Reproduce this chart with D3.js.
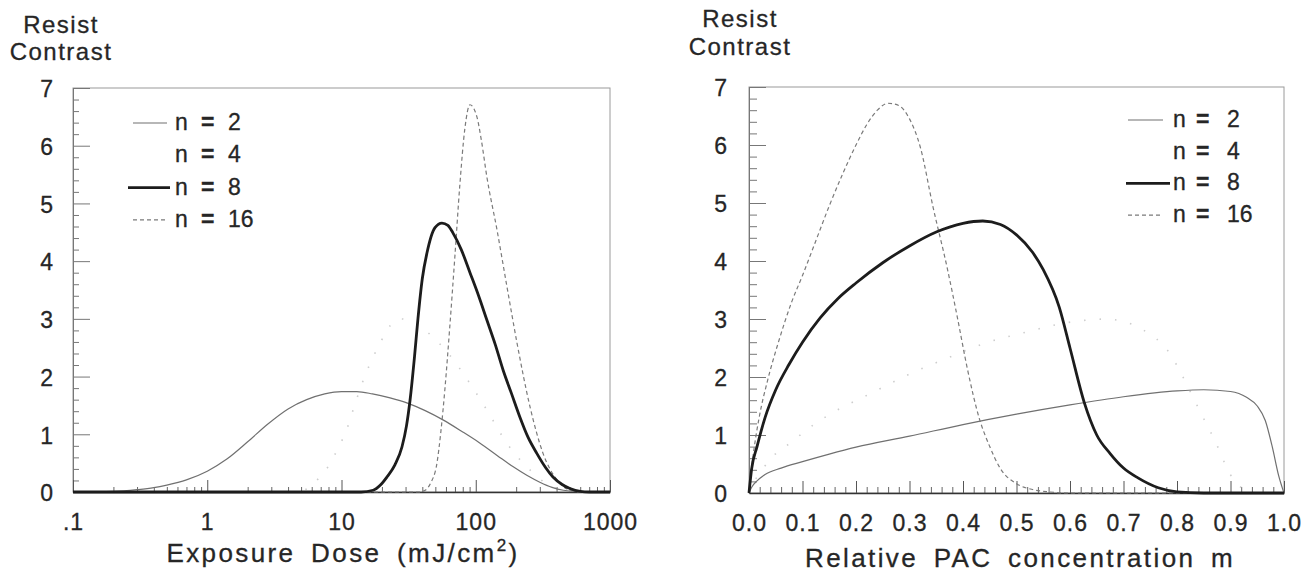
<!DOCTYPE html>
<html><head><meta charset="utf-8">
<script src="https://cdn.jsdelivr.net/npm/d3@7"></script>
<style>
html,body{margin:0;padding:0;background:#fff;}
svg text{font-family:"Liberation Sans",Arial,Helvetica,sans-serif;fill:#262626;stroke:#262626;stroke-width:0.3px;}
</style></head>
<body>
<svg id="chart" width="1311" height="575"></svg>
<script>
// ---------- data ----------
const seriesNames = ["2", "4", "8", "16"];

// Left panel: [exposure dose (mJ/cm2), resist contrast]
const doseN2 = [[0.1,0],[0.2,0.01],[0.3,0.04],[0.4,0.075],[0.5,0.12],[0.7,0.21],[1.0,0.36],[1.4,0.57],[2.0,0.87],[2.8,1.17],[4.0,1.44],[5.5,1.60],[7.5,1.70],[10,1.74],[13,1.74],[17,1.70],[23,1.63],[31,1.54],[42,1.41],[57,1.25],[80,1.04],[107,0.85],[145,0.63],[189,0.44],[240,0.29],[300,0.17],[370,0.08],[450,0.03],[600,0.005],[1000,0]];
const doseN4 = [[0.1,0],[4,0],[5.5,0.05],[6.6,0.21],[8,0.45],[9.3,0.73],[11,1.1],[12.5,1.5],[15,2.02],[19.4,2.58],[23,2.88],[27,3.0],[33,2.97],[40,2.84],[62,2.41],[90,1.89],[121,1.42],[170,0.85],[254,0.38],[350,0.12],[500,0.02],[700,0],[1000,0]];
const doseN8 = [[0.1,0],[14,0],[17.2,0.03],[19.5,0.12],[21.8,0.26],[25,0.47],[28.2,0.78],[30.5,1.15],[32.4,1.59],[35,2.35],[37.1,3.0],[40,3.7],[43.3,4.14],[49.7,4.58],[56,4.66],[62,4.62],[67.6,4.49],[78,4.2],[90.6,3.80],[105,3.4],[121,2.98],[140,2.55],[160,2.11],[185,1.70],[213,1.30],[245,0.95],[285,0.67],[330,0.43],[376,0.26],[440,0.13],[503,0.06],[600,0.01],[700,0],[1000,0]];
const doseN16 = [[0.1,0],[38,0],[42,0.03],[46,0.15],[51.4,0.50],[55,1.05],[59,1.8],[64,2.85],[70,4.1],[76,5.3],[83,6.3],[90.6,6.71],[102,6.50],[110,6.1],[121,5.46],[144,4.54],[171,3.55],[203,2.58],[254,1.47],[317,0.67],[403,0.21],[503,0.03],[600,0],[1000,0]];

// Right panel: [relative PAC concentration m, resist contrast]
const pacN2 = [[0,0],[0.005,0.1],[0.015,0.21],[0.03,0.32],[0.06,0.43],[0.1,0.54],[0.15,0.67],[0.2,0.79],[0.3,0.98],[0.4,1.18],[0.5,1.36],[0.6,1.52],[0.7,1.66],[0.8,1.76],[0.85,1.78],[0.9,1.75],[0.93,1.65],[0.95,1.50],[0.965,1.25],[0.978,0.8],[0.99,0.3],[1.0,0]];
const pacN4 = [[0,0],[0.01,0.2],[0.023,0.38],[0.05,0.68],[0.08,0.88],[0.105,1.07],[0.15,1.35],[0.226,1.71],[0.3,2.05],[0.38,2.36],[0.437,2.57],[0.525,2.79],[0.563,2.88],[0.62,2.97],[0.67,3.0],[0.694,2.97],[0.737,2.81],[0.787,2.40],[0.81,2.02],[0.83,1.65],[0.85,1.28],[0.874,0.84],[0.89,0.5],[0.907,0.21],[0.93,0.05],[0.95,0],[1,0]];
const pacN8 = [[0,0],[0.005,0.42],[0.015,0.8],[0.03,1.3],[0.05,1.78],[0.075,2.22],[0.1,2.6],[0.133,3.02],[0.166,3.35],[0.2,3.62],[0.25,3.97],[0.3,4.26],[0.35,4.5],[0.4,4.65],[0.437,4.69],[0.47,4.63],[0.5,4.45],[0.53,4.15],[0.55,3.85],[0.58,3.2],[0.6,2.5],[0.627,1.55],[0.65,1.0],[0.675,0.68],[0.7,0.43],[0.727,0.26],[0.765,0.09],[0.80,0.02],[0.85,0],[1,0]];
const pacN16 = [[0,0],[0.005,0.45],[0.01,0.8],[0.02,1.35],[0.035,1.95],[0.055,2.6],[0.08,3.3],[0.1,3.75],[0.125,4.35],[0.15,4.95],[0.175,5.5],[0.2,6.0],[0.22,6.35],[0.24,6.6],[0.26,6.72],[0.28,6.68],[0.3,6.45],[0.32,5.97],[0.344,4.93],[0.37,3.9],[0.389,3.05],[0.408,2.15],[0.43,1.3],[0.45,0.8],[0.47,0.42],[0.5,0.16],[0.53,0.06],[0.56,0.02],[0.6,0],[1,0]];

// tick labels
const doseTicks = [0.1, 1, 10, 100, 1000];
const doseTickLabels = [".1", "1", "10", "100", "1000"];
const pacTicks = [0, 0.1, 0.2, 0.3, 0.4, 0.5, 0.6, 0.7, 0.8, 0.9, 1.0];
const pacTickLabels = ["0.0","0.1","0.2","0.3","0.4","0.5","0.6","0.7","0.8","0.9","1.0"];
const contrastTicks = [0, 1, 2, 3, 4, 5, 6, 7];
const contrastTickLabels = ["0","1","2","3","4","5","6","7"];

// ---------- styles ----------
const styles = {
  "2":  {stroke:"#707070", width:1.2, dash:null},
  "4":  {stroke:"#cdcdcd", width:1.6, dash:"1.5,14"},
  "8":  {stroke:"#1c1c1c", width:2.8, dash:null},
  "16": {stroke:"#7a7a7a", width:1.2, dash:"4,3"}
};

const svg = d3.select("#chart");

function drawPanel(cfg) {
  const g = svg.append("g");
  const x = cfg.x, y = cfg.y;
  const [x0, x1] = x.range(), [yb, yt] = y.range();

  // frame
  g.append("rect").attr("x", x0).attr("y", yt).attr("width", x1 - x0).attr("height", yb - yt)
    .attr("fill", "none").attr("stroke", "#9a9a9a").attr("stroke-width", 1);

  // y axis minor + major
  const yMinor = d3.range(0, 7.0001, 0.2).filter(v => Math.abs(v - Math.round(v)) > 1e-6);
  g.append("g").attr("transform", `translate(${x0},0)`)
    .call(d3.axisLeft(y).tickValues(yMinor).tickSize(-cfg.yMinorLen).tickSizeOuter(0).tickFormat(""))
    .call(s => { s.select(".domain").remove(); s.selectAll("line").attr("stroke", "#777"); });
  const yAx = g.append("g").attr("transform", `translate(${x0},0)`)
    .call(d3.axisLeft(y).tickValues(contrastTicks).tickSize(-17).tickSizeOuter(0)
      .tickFormat((d, i) => contrastTickLabels[i]));
  yAx.select(".domain").attr("stroke", "#777");
  yAx.selectAll("line").attr("stroke", "#777");
  yAx.selectAll("text").attr("x", -cfg.yLabelGap).attr("dy", "0.38em")
    .style("font-size", "23px").attr("fill", "#262626");

  // x axis minor + major
  g.append("g").attr("transform", `translate(0,${yb})`)
    .call(d3.axisBottom(x).tickValues(cfg.xMinor).tickSize(-cfg.xMinorLen).tickSizeOuter(0).tickFormat(""))
    .call(s => { s.select(".domain").remove(); s.selectAll("line").attr("stroke", "#666"); });
  const xAx = g.append("g").attr("transform", `translate(0,${yb})`)
    .call(d3.axisBottom(x).tickValues(cfg.xTicks).tickSize(-12).tickSizeOuter(0)
      .tickFormat((d, i) => cfg.xTickLabels[i]));
  xAx.select(".domain").attr("stroke", "#333").attr("stroke-width", 1.5);
  xAx.selectAll("line").attr("stroke", "#555");
  xAx.selectAll("text").attr("y", 38).attr("dy", 0).style("font-size", "23px")
    .style("letter-spacing", "1px").attr("fill", "#262626");

  // curves
  const line = d3.line().x(d => x(d[0])).y(d => y(d[1])).curve(d3.curveMonotoneX);
  cfg.order.forEach(n => {
    const st = styles[n];
    g.append("path").datum(cfg.series[n]).attr("d", line).attr("fill", "none")
      .attr("stroke", st.stroke).attr("stroke-width", st.width)
      .attr("stroke-dasharray", st.dash).attr("stroke-linejoin", "round");
  });

  // y title
  g.append("text").attr("x", cfg.yTitleX).attr("y", cfg.yTitleY1).attr("text-anchor", "middle")
    .style("font-size", "24px").style("letter-spacing", "1.5px").text("Resist");
  g.append("text").attr("x", cfg.yTitleX).attr("y", cfg.yTitleY2).attr("text-anchor", "middle")
    .style("font-size", "24px").style("letter-spacing", "1.5px").text("Contrast");

  // x title
  const xt = g.append("text").attr("x", cfg.xTitleX).attr("y", cfg.xTitleY).attr("text-anchor", "middle")
    .style("font-size", "26px").style("letter-spacing", "2.4px").style("word-spacing", "6px");
  cfg.xTitle(xt);

  // legend
  seriesNames.forEach((n, i) => {
    const by = cfg.legY + i * cfg.legStep;
    const st = styles[n];
    if (n !== "4") {
      const lx = n === "8" ? cfg.legLine8 : cfg.legLine;
      g.append("line").attr("x1", lx[0]).attr("x2", lx[1]).attr("y1", by - 7).attr("y2", by - 7)
        .attr("stroke", st.stroke).attr("stroke-width", n === "8" ? 2.6 : 1.1)
        .attr("stroke-dasharray", n === "16" ? "4,3" : null);
    }
    g.append("text").attr("x", cfg.legText[0]).attr("y", by).style("font-size", "23px").text("n");
    g.append("text").attr("x", cfg.legText[1]).attr("y", by).style("font-size", "23px")
      .style("font-weight", "bold").text("=");
    g.append("text").attr("x", cfg.legText[2]).attr("y", by).style("font-size", "23px").text(n);
  });
}

// minor tick values
const doseMinor = [];
[0.1, 1, 10, 100].forEach(dec => { for (let k = 2; k <= 9; k++) doseMinor.push(dec * k); });
const pacMinor = d3.range(0, 1.0001, 0.02).filter(v => Math.abs(v * 10 - Math.round(v * 10)) > 1e-6);

drawPanel({
  x: d3.scaleLog().domain([0.1, 1000]).range([73, 610]),
  y: d3.scaleLinear().domain([0, 7]).range([492, 88]),
  xTicks: doseTicks, xTickLabels: doseTickLabels, xMinor: doseMinor, xMinorLen: 5,
  yMinorLen: 6, yLabelGap: 20,
  series: {"2": doseN2, "4": doseN4, "8": doseN8, "16": doseN16},
  order: ["4", "2", "16", "8"],
  yTitleX: 61, yTitleY1: 33, yTitleY2: 60,
  xTitleX: 343, xTitleY: 562,
  xTitle: t => {
    t.append("tspan").text("Exposure Dose (mJ/cm");
    t.append("tspan").attr("dy", -11).style("font-size", "17px").text("2");
    t.append("tspan").attr("dy", 11).text(")");
  },
  legY: 130, legStep: 32.3, legLine: [133, 167], legLine8: [128, 170], legText: [175, 201, 228]
});

drawPanel({
  x: d3.scaleLinear().domain([0, 1]).range([749, 1284]),
  y: d3.scaleLinear().domain([0, 7]).range([493, 87]),
  xTicks: pacTicks, xTickLabels: pacTickLabels, xMinor: pacMinor, xMinorLen: 6,
  yMinorLen: 8, yLabelGap: 22,
  series: {"2": pacN2, "4": pacN4, "8": pacN8, "16": pacN16},
  order: ["4", "2", "16", "8"],
  yTitleX: 740, yTitleY1: 27, yTitleY2: 55,
  xTitleX: 1020, xTitleY: 567,
  xTitle: t => { t.text("Relative PAC concentration m"); },
  legY: 127, legStep: 31.7, legLine: [1128, 1163], legLine8: [1126, 1170], legText: [1173, 1196, 1227]
});
</script>
</body></html>
